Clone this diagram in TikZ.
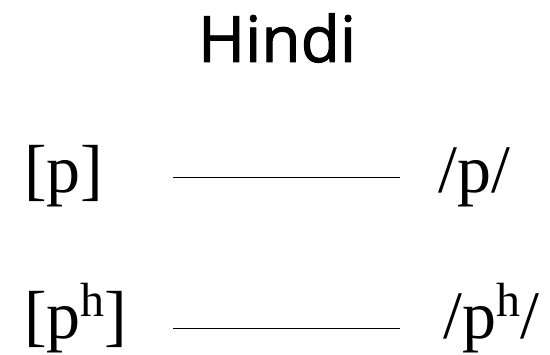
\documentclass[tikz,border=0pt]{standalone}
\usepackage{fontspec}
\setmainfont{Liberation Serif}
\newfontfamily\titlefont[FakeBold=1.5]{Open Sans}
\newcommand{\asp}[1]{\raisebox{22pt}{\fontsize{48}{48}\selectfont #1}}
\begin{document}
\begin{tikzpicture}[x=1pt, y=-1pt,
      phone/.style={inner sep=0pt, anchor=base west, font=\fontsize{68}{80}\selectfont},
      link/.style={line width=0.9pt, black},
    ]
    \useasboundingbox (0,0) rectangle (550,355);

    % Title
    \node[font=\titlefont\fontsize{64}{70}\selectfont, inner sep=0pt, anchor=base]
      (title) at (277, 62) {Hindi};

    % Phones (left) and phonemes (right)
    \node[phone] (ph1) at (24, 193) {[p]};
    \node[phone] (pm1) at (438, 193) {/p/};
    \node[phone] (ph2) at (24, 339) {[p\asp{h}]};
    \node[phone] (pm2) at (443, 339) {/p\asp{h}/};

    % Links
    \coordinate (a1) at (173, 177);
    \coordinate (b1) at (400, 177);
    \coordinate (a2) at (173, 328);
    \coordinate (b2) at (400, 328);
    \draw[link] (a1) -- (b1);
    \draw[link] (a2) -- (b2);
  \end{tikzpicture}
\end{document}
